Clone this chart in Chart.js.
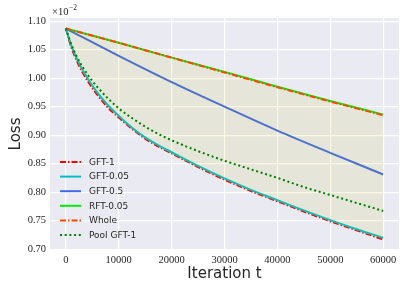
<!DOCTYPE html>
<html>
<head>
<meta charset="utf-8">
<script src="https://cdn.jsdelivr.net/npm/chart.js@4/dist/chart.umd.min.js"></script>
<style>
  html, body { margin: 0; padding: 0; background: #fff; }
  #wrap { width: 407px; height: 291px; }
</style>
</head>
<body>
<div id="wrap"><canvas id="lossChart"></canvas></div>
<script>
// Iterations (dense grid for the curved runs, coarse for the near-straight ones)
const tFine = [0, 1000, 2000, 3000, 4000, 5000, 6000, 8000, 10000, 12500, 15000, 17500,
  20000, 25000, 30000, 35000, 40000, 45000, 50000, 55000, 60000];
const tCoarse = [0, 10000, 20000, 30000, 40000, 50000, 60000];

// Loss values, in units of 1e-2
const gft1 = [1.087, 1.055, 1.032, 1.013, 0.997, 0.983, 0.970, 0.948, 0.931, 0.911, 0.894, 0.880,
  0.868, 0.844, 0.822, 0.802, 0.784, 0.766, 0.749, 0.733, 0.717];
const gft005 = [1.087, 1.058, 1.036, 1.017, 1.001, 0.987, 0.974, 0.952, 0.934, 0.913, 0.896, 0.882,
  0.870, 0.846, 0.824, 0.804, 0.786, 0.768, 0.751, 0.735, 0.720];
const poolGft1 = [1.087, 1.060, 1.039, 1.022, 1.008, 0.995, 0.984, 0.964, 0.947, 0.930, 0.915, 0.902,
  0.891, 0.872, 0.855, 0.840, 0.825, 0.809, 0.795, 0.781, 0.767];
const gft05 = [1.087, 1.039, 0.993, 0.950, 0.908, 0.869, 0.831];
const rft005 = [1.087, 1.062, 1.036, 1.011, 0.985, 0.960, 0.936];
const whole = [1.087, 1.062, 1.036, 1.010, 0.984, 0.959, 0.935];

const xTicks = [0, 10000, 20000, 30000, 40000, 50000, 60000];
const yTicks = [0.70, 0.75, 0.80, 0.85, 0.90, 0.95, 1.00, 1.05, 1.10];

const toPoints = (xs, ys) => xs.map((x, i) => ({ x: x, y: ys[i] }));

const TEXT = '#262626';
const LINE_W = 2;

// seaborn-like grey panel behind the plot
const panelBg = {
  id: 'panelBg',
  beforeDraw(chart) {
    const { ctx, chartArea: a } = chart;
    ctx.save();
    ctx.fillStyle = '#eaeaf2';
    ctx.fillRect(a.left, a.top, a.right - a.left, a.bottom - a.top);
    ctx.restore();
  }
};

// x10^-2 offset text and the legend inside the lower left corner
const extras = {
  id: 'extras',
  afterDraw(chart) {
    const { ctx, chartArea: a } = chart;
    ctx.save();
    ctx.fillStyle = TEXT;
    ctx.textBaseline = 'alphabetic';
    ctx.font = '10.5px "Liberation Serif"';
    ctx.fillText('\u00d710', a.left + 2, a.top - 3);
    const w = ctx.measureText('\u00d710').width;
    ctx.font = '7.5px "Liberation Serif"';
    ctx.fillText('\u22122', a.left + 2 + w + 0.5, a.top - 8);

    const sets = chart.data.datasets;
    ctx.font = '9px "DejaVu Sans"';
    ctx.textBaseline = 'middle';
    sets.forEach((ds, i) => {
      const y = a.bottom - 15 - (sets.length - 1 - i) * 14.6;
      ctx.beginPath();
      ctx.strokeStyle = ds.borderColor;
      ctx.lineWidth = LINE_W;
      ctx.setLineDash(ds.borderDash || []);
      ctx.moveTo(a.left + 10, y);
      ctx.lineTo(a.left + 31, y);
      ctx.stroke();
      ctx.setLineDash([]);
      ctx.fillStyle = TEXT;
      ctx.fillText(ds.label, a.left + 39, y + 0.5);
    });
    ctx.restore();
  }
};

const dashDot = [6, 2, 1.5, 2];

new Chart(document.getElementById('lossChart'), {
  type: 'line',
  data: {
    datasets: [
      {
        label: 'GFT-1',
        data: toPoints(tFine, gft1),
        borderColor: '#ff0000',
        borderDash: dashDot,
        order: 6
      },
      {
        label: 'GFT-0.05',
        data: toPoints(tFine, gft005),
        borderColor: '#00bfc4',
        order: 5
      },
      {
        label: 'GFT-0.5',
        data: toPoints(tCoarse, gft05),
        borderColor: '#4169e1',
        order: 4
      },
      {
        label: 'RFT-0.05',
        data: toPoints(tCoarse, rft005),
        borderColor: '#00ee00',
        order: 3
      },
      {
        label: 'Whole',
        data: toPoints(tCoarse, whole),
        borderColor: '#ff4500',
        borderDash: dashDot,
        fill: 0,
        backgroundColor: 'rgba(191, 191, 0, 0.1)',
        order: 2
      },
      {
        label: 'Pool GFT-1',
        data: toPoints(tFine, poolGft1),
        borderColor: '#008000',
        borderDash: [2, 2.7],
        order: 1
      }
    ]
  },
  options: {
    responsive: true,
    maintainAspectRatio: false,
    animation: false,
    layout: { padding: { left: 0, right: 8, top: 18, bottom: 0 } },
    elements: {
      line: { borderWidth: LINE_W, cubicInterpolationMode: 'monotone', fill: false },
      point: { radius: 0, hoverRadius: 0 }
    },
    plugins: {
      legend: { display: false },
      tooltip: { enabled: false },
      filler: { propagate: false }
    },
    scales: {
      x: {
        type: 'linear',
        min: -3000,
        max: 63000,
        afterBuildTicks: (s) => { s.ticks = xTicks.map(v => ({ value: v })); },
        afterFit: (s) => { s.height = 41; },
        border: { display: false },
        grid: { color: '#ffffff', lineWidth: 1.2, drawTicks: false },
        ticks: {
          padding: 4,
          color: TEXT,
          maxRotation: 0,
          font: { family: 'Liberation Serif', size: 10.5 },
          callback: (v) => String(v)
        },
        title: {
          display: true,
          text: 'Iteration t',
          color: TEXT,
          font: { family: 'DejaVu Sans', size: 15 },
          padding: { top: 0, bottom: 8 }
        }
      },
      y: {
        type: 'linear',
        min: 0.6985,
        max: 1.1055,
        afterBuildTicks: (s) => { s.ticks = yTicks.map(v => ({ value: v })); },
        afterFit: (s) => { s.width = 50; },
        border: { display: false },
        grid: { color: '#ffffff', lineWidth: 1.2, drawTicks: false },
        ticks: {
          padding: 4,
          color: TEXT,
          font: { family: 'Liberation Serif', size: 10.5 },
          callback: (v) => v.toFixed(2)
        },
        title: {
          display: true,
          text: 'Loss',
          color: TEXT,
          font: { family: 'DejaVu Sans', size: 15 },
          padding: { top: 7, bottom: 0 }
        }
      }
    }
  },
  plugins: [panelBg, extras]
});
</script>
</body>
</html>
